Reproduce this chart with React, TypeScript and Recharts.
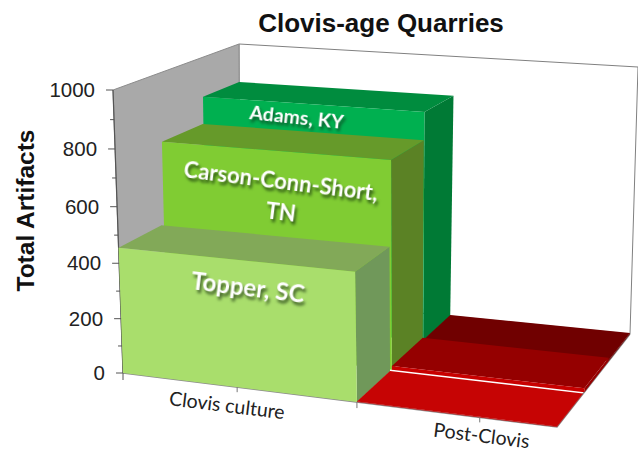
import { Bar, BarChart, XAxis, YAxis } from 'recharts'

const categories = ['Clovis culture', 'Post-Clovis']
const adams = [855, 4]
const carson = [755, 14]
const topper = [455, 2]
const yTicks = [0, 100, 200, 300, 400, 500, 600, 700, 800, 900, 1000]

const rows = categories.map((name, i) => ({
  name,
  adams: adams[i],
  carson: carson[i],
  topper: topper[i],
}))

// flat plot rectangle, bent into the 3d box by project()
const LEFT = 123
const TOP = 90
const W = 434
const H = 283

// corners of the box as seen in the picture
const FBL = [123, 373]
const FBR = [557, 427]
const BBL = [240, 295]
const BBR = [630, 334]
const FTL = [113, 90]
const FTR = [558, 122]
const BTL = [239, 44]
const BTR = [638, 67]

const lerp = (a: number, b: number, t: number) => a + (b - a) * t
const warpStops = [0, 0.263, 0.539, 0.822, 1]
function warpU(u: number) {
  const s = Math.min(3, Math.floor(u * 4))
  return lerp(warpStops[s], warpStops[s + 1], u * 4 - s)
}
const warpV = (v: number) => (0.95 * v) / (1 - 0.05 * v)

function project(u: number, v: number, d: number): [number, number] {
  const U = warpU(u)
  const V = warpV(v)
  const at = (i: number) => {
    const bottom = lerp(lerp(FBL[i], FBR[i], U), lerp(BBL[i], BBR[i], U), d)
    const top = lerp(lerp(FTL[i], FTR[i], U), lerp(BTL[i], BTR[i], U), d)
    return lerp(bottom, top, V)
  }
  return [at(0), at(1)]
}

const pts = (list: number[][]) => list.map(p => p.join(',')).join(' ')

const clovisColors = {
  adams: { front: '#00b050', top: '#008c3e', side: '#007a35' },
  carson: { front: '#80cc33', top: '#669a2a', side: '#5b8225' },
  topper: { front: '#a9de6c', top: '#82a958', side: '#70985a' },
}
const postColors = {
  adams: { front: '#800000', top: '#700000', side: '#700000' },
  carson: { front: '#c80000', top: '#950000', side: '#950000' },
  topper: { front: '#c80404', top: '#c60404', side: '#c60404' },
}
const depths = {
  adams: [0.71, 1],
  carson: [0.375, 0.705],
  topper: [0, 0.355],
}

const barText = {
  adams: { lines: ['Adams, KY'], x: 296, y: 124, angle: 6, size: 19.5, shadow: '#0b5a2a' },
  carson: { lines: ['Carson-Conn-Short,', 'TN'], x: 280, y: 189, angle: 7, size: 22, shadow: '#2f5a14' },
  topper: { lines: ['Topper, SC'], x: 247, y: 296, angle: 7, size: 24, shadow: '#3f5f28' },
}

type Key = 'adams' | 'carson' | 'topper'

function makeShape(key: Key) {
  return function Shape(props: any) {
    const { x, y, width, index } = props
    const [d0, d1] = depths[key]
    const u0 = (x - LEFT) / W
    const u1 = (x + width - LEFT) / W
    const v = (TOP + H - y) / H
    const c = index === 0 ? clovisColors[key] : postColors[key]
    const t = barText[key]
    return (
      <g>
        <polygon points={pts([project(u1, 0, d0), project(u1, 0, d1), project(u1, v, d1), project(u1, v, d0)])} fill={c.side} />
        <polygon points={pts([project(u0, v, d0), project(u1, v, d0), project(u1, v, d1), project(u0, v, d1)])} fill={c.top} />
        <polygon points={pts([project(u0, 0, d0), project(u1, 0, d0), project(u1, v, d0), project(u0, v, d0)])} fill={c.front} />
        {index === 0 &&
          t.lines.map((line, i) => (
            <text
              key={line}
              x={t.x}
              y={t.y + i * 31}
              textAnchor="middle"
              transform={`rotate(${t.angle} ${t.x} ${t.y + i * 31})`}
              fontFamily="Lato"
              fontWeight={700}
              fontSize={t.size}
              fill="#ffffff"
              style={{ filter: `drop-shadow(2px 3px 1.5px ${t.shadow})` }}
            >
              {line}
            </text>
          ))}
      </g>
    )
  }
}

function Walls() {
  return (
    <g>
      <polygon points={pts([BTL, BTR, BBR, BBL])} fill="#ffffff" stroke="#808080" strokeWidth={1} />
      <polygon points={pts([FTL, BTL, BBL, FBL])} fill="#a9a9a9" stroke="#8c8c8c" strokeWidth={1} />
      <polyline points={pts([FBL, FBR, BBR])} fill="none" stroke="#8c8c8c" strokeWidth={1.5} />
      <text x={381} y={32} textAnchor="middle" fontFamily="Liberation Sans" fontWeight={700} fontSize={26} fill="#111">
        Clovis-age Quarries
      </text>
    </g>
  )
}

function ValueTick(props: any) {
  const value = props.payload.value
  const [px, py] = project(0, value / 1000, 0)
  const major = value % 200 === 0
  return (
    <g>
      <line x1={px - (major ? 7 : 4)} y1={py} x2={px} y2={py} stroke="#555" />
      {major && (
        <text x={px - 18} y={py + 7} textAnchor="end" fontFamily="Liberation Sans" fontSize={20.5} fill="#222">
          {value}
        </text>
      )}
    </g>
  )
}

function AxisEdge() {
  return <line x1={FTL[0]} y1={FTL[1]} x2={FBL[0]} y2={FBL[1]} stroke="#555" strokeWidth={1.2} />
}

const labelShift = [-11, 1]

function CategoryTick(props: any) {
  const { payload, index } = props
  const [px, py] = project((payload.coordinate - LEFT) / W, 0, 0)
  const lx = px + labelShift[index]
  const ly = py + 25
  const [bx, by] = project(0.5, 0, 0)
  return (
    <g>
      <line x1={px} y1={py} x2={px} y2={py + 5} stroke="#777" />
      {index === 0 && <line x1={bx} y1={by} x2={bx} y2={by + 6} stroke="#777" />}
      {index === 0 && <line x1={FBL[0]} y1={FBL[1]} x2={FBL[0]} y2={FBL[1] + 7} stroke="#555" />}
      <text x={lx} y={ly} textAnchor="middle" transform={`rotate(7 ${lx} ${ly})`} fontFamily="Lato" fontSize={19.5} fill="#222">
        {payload.value}
      </text>
    </g>
  )
}

export default function App() {
  return (
    <div style={{ position: 'absolute', left: 0, top: 0 }}>
      <BarChart
        width={638}
        height={450}
        data={rows}
        margin={{ top: TOP, right: 81, bottom: 47, left: 0 }}
        barCategoryGap={0}
        barGap="-100%"
      >
        <Walls />
        <XAxis dataKey="name" height={30} axisLine={false} tickLine={false} tick={<CategoryTick />} interval={0} />
        <YAxis
          width={123}
          domain={[0, 1000]}
          ticks={yTicks}
          interval={0}
          axisLine={false}
          tickLine={false}
          tick={<ValueTick />}
          label={{
            value: 'Total Artifacts',
            angle: -90,
            position: 'insideLeft',
            dx: 20,
            dy: -21,
            style: { fontFamily: 'Liberation Sans', fontWeight: 700, fontSize: 24.5, fill: '#111', textAnchor: 'middle' },
          }}
        />
        <Bar dataKey="adams" isAnimationActive={false} shape={makeShape('adams')} />
        <Bar dataKey="carson" isAnimationActive={false} shape={makeShape('carson')} />
        <Bar dataKey="topper" isAnimationActive={false} shape={makeShape('topper')} />
        <AxisEdge />
      </BarChart>
    </div>
  )
}
